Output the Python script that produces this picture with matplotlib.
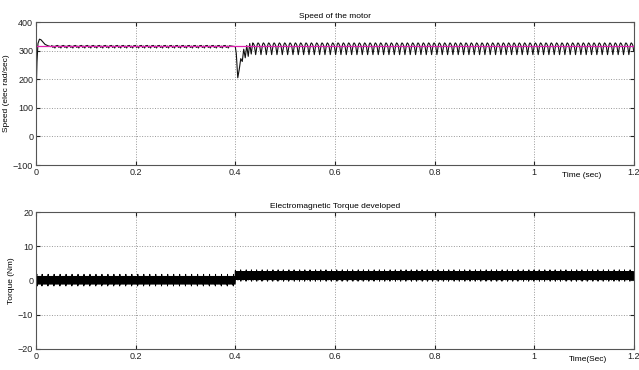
import matplotlib
matplotlib.use("Agg")
import matplotlib.pyplot as plt
import numpy as np

plt.rcParams["font.family"] = ["Liberation Sans", "DejaVu Sans"]

# --- values ---
speed_ref_t = [0.0, 1.2]
speed_ref_v = [315, 315]

# start-up transient
start_t = [0.000, 0.002, 0.004, 0.007, 0.010, 0.014, 0.018, 0.024, 0.030]
start_v = [120, 260, 325, 340, 338, 330, 322, 317, 314]

# small wiggle at no load (one cycle, repeated)
noload_period = 0.012
noload_cycle = [318, 311, 316, 309, 317]

# load applied at 0.4 s
step_t = [0.400, 0.402, 0.405, 0.408, 0.411, 0.414, 0.417, 0.420, 0.423, 0.426, 0.429, 0.432]
step_v = [314, 290, 205, 235, 272, 262, 305, 275, 318, 280, 325, 288]

# loaded ripple (one cycle, repeated)
load_period = 0.0107
load_frac = [0.0, 0.15, 0.30, 0.45, 0.55, 0.70, 0.85]
load_cycle = [327, 324, 318, 300, 286, 305, 322]

# torque band limits (Nm)
torque_start = [2.5, 1.5]
torque_noload = [-1.0, 1.2]
torque_loaded = [0.4, 2.5]
torque_step_peak = 2.9
torque_spike = 0.6

x_ticks = [0, 0.2, 0.4, 0.6, 0.8, 1.0, 1.2]
x_ticklabels = ["0", "0.2", "0.4", "0.6", "0.8", "1", "1.2"]
speed_ticks = [-100, 0, 100, 200, 300, 400]
torque_ticks = [-20, -10, 0, 10, 20]


def build_speed():
    t = list(start_t)
    v = list(start_v)
    c0 = start_t[-1]
    while c0 < 0.4 - noload_period:
        for k, val in enumerate(noload_cycle):
            t.append(c0 + noload_period * (k + 1) / (len(noload_cycle) + 1))
            v.append(val)
        c0 += noload_period
    t += step_t
    v += step_v
    c0 = step_t[-1] + 0.003
    while c0 < 1.2:
        for f, val in zip(load_frac, load_cycle):
            if c0 + f * load_period <= 1.2:
                t.append(c0 + f * load_period)
                v.append(val)
        c0 += load_period
    return np.array(t), np.array(v)


def build_torque():
    t, v = [0.0, 0.001], list(torque_start)
    dt = 0.0004
    n = int(round((1.2 - 0.002) / dt)) + 1
    last_cycle = -1
    k = 0
    for i in range(n):
        tt = 0.002 + i * dt
        loaded = tt >= 0.4
        lo, hi = torque_loaded if loaded else torque_noload
        per = load_period if loaded else noload_period
        base = 0.4 if loaded else 0.0
        cyc = int((tt - base) / per)
        val = hi if i % 2 == 0 else lo
        if cyc != last_cycle:
            k = 2
            last_cycle = cyc
        if k > 0:
            val = hi + torque_spike if i % 2 == 0 else lo - torque_spike
            k -= 1
        if loaded and tt < 0.4 + 2 * dt:
            val = torque_step_peak
        t.append(tt)
        v.append(val)
    return np.array(t), np.array(v)


def style(ax, yticks, ylim):
    ax.set_xlim(0, 1.2)
    ax.set_ylim(*ylim)
    ax.set_xticks(x_ticks)
    ax.set_xticklabels(x_ticklabels)
    ax.set_yticks(yticks)
    ax.tick_params(direction="in", length=3, labelsize=6.5, colors="#222222",
                   top=True, right=True, pad=2)
    ax.grid(True, linestyle=":", color="#999999", linewidth=0.7)
    for sp in ax.spines.values():
        sp.set_edgecolor("#555555")
        sp.set_linewidth(0.8)


fig = plt.figure(figsize=(6.39, 3.70), dpi=100)
ax1 = fig.add_axes([0.0563, 0.554, 0.9357, 0.3865])
ax2 = fig.add_axes([0.0563, 0.0568, 0.9357, 0.3702])

ts, vs = build_speed()
ax1.plot(ts, vs, color="#111111", linewidth=0.8)
ax1.plot(speed_ref_t, speed_ref_v, color="#e020b0", linewidth=0.9)
style(ax1, speed_ticks, (-100, 400))
ax1.set_title("Speed of the motor", fontsize=6, pad=3)
ax1.set_ylabel("Speed (elec rad/sec)", fontsize=6, labelpad=2)
ax1.text(0.945, -0.05, "Time (sec)", transform=ax1.transAxes, fontsize=6,
         ha="right", va="top")

tq, vq = build_torque()
ax2.plot(tq, vq, color="black", linewidth=0.7)
style(ax2, torque_ticks, (-20, 20))
ax2.set_title("Electromagnetic Torque developed", fontsize=6, pad=3)
ax2.set_ylabel("Torque (Nm)", fontsize=6, labelpad=2)
ax2.text(0.955, -0.05, "Time(Sec)", transform=ax2.transAxes, fontsize=6,
         ha="right", va="top")

fig.savefig("out.png", dpi=100)
